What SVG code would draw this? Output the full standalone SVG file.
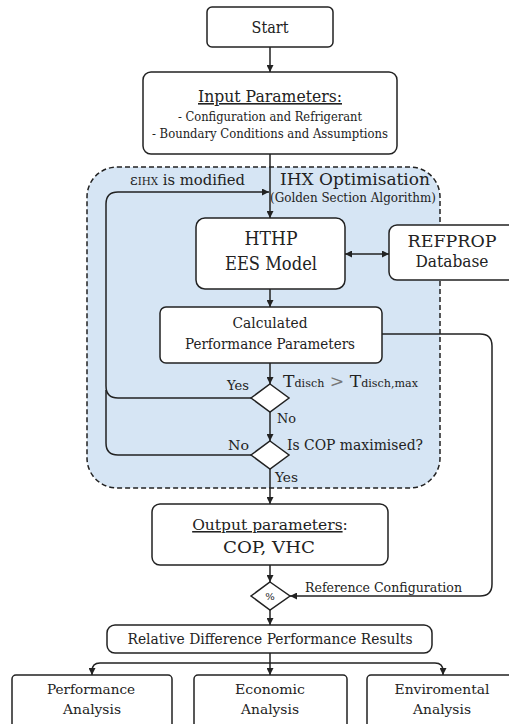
<svg xmlns="http://www.w3.org/2000/svg" width="509" height="724" viewBox="0 0 509 724">
<style>
.box{fill:#fff;stroke:#222;stroke-width:1.5}
.ln{fill:none;stroke:#222;stroke-width:1.5}
text{font-family:"DejaVu Serif","Liberation Serif",serif;fill:#222}
.c{text-anchor:middle}
</style>
<defs>
<marker id="ah" viewBox="0 0 10 10" refX="10" refY="5" markerWidth="7" markerHeight="7" orient="auto-start-reverse" markerUnits="userSpaceOnUse">
<path d="M0,0 L10,5 L0,10 z" fill="#222"/>
</marker>
</defs>
<rect id="region" x="87" y="167" width="353" height="321" rx="30" fill="#d6e5f4" stroke="#222" stroke-width="1.5" stroke-dasharray="5,3"/>
<g id="start"><rect class="box" x="207" y="7" width="126" height="40" rx="5"/><text class="c" x="270" y="33" font-size="17" textLength="37" lengthAdjust="spacingAndGlyphs">Start</text></g>
<g id="input"><rect class="box" x="143" y="72" width="254" height="82" rx="8"/>
<text class="c" x="270" y="102" font-size="16" text-decoration="underline" textLength="144" lengthAdjust="spacingAndGlyphs">Input Parameters:</text>
<text class="c" x="270" y="121" font-size="12" textLength="184" lengthAdjust="spacingAndGlyphs">- Configuration and Refrigerant</text>
<text class="c" x="270" y="138" font-size="12" textLength="236" lengthAdjust="spacingAndGlyphs">- Boundary Conditions and Assumptions</text></g>
<g id="ihx-label"><text x="280" y="185" font-size="17.5" textLength="150" lengthAdjust="spacingAndGlyphs">IHX Optimisation</text>
<text x="270" y="202" font-size="12" textLength="166" lengthAdjust="spacingAndGlyphs">(Golden Section Algorithm)</text></g>
<g id="eps-label"><text x="130" y="185" font-size="15" textLength="115" lengthAdjust="spacingAndGlyphs">ε<tspan font-size="10.5">IHX</tspan> is modified</text></g>
<g id="hthp"><rect class="box" x="196" y="218" width="149" height="71" rx="9"/>
<text class="c" x="271" y="245" font-size="19" textLength="53" lengthAdjust="spacingAndGlyphs">HTHP</text>
<text class="c" x="271" y="270" font-size="19" textLength="92" lengthAdjust="spacingAndGlyphs">EES Model</text></g>
<g id="refprop"><rect class="box" x="389" y="225" width="128" height="55" rx="8"/>
<text class="c" x="452" y="247" font-size="17" textLength="89" lengthAdjust="spacingAndGlyphs">REFPROP</text>
<text class="c" x="452" y="267" font-size="17" textLength="73" lengthAdjust="spacingAndGlyphs">Database</text></g>
<g id="calc"><rect class="box" x="160" y="307" width="222" height="56" rx="6"/>
<text class="c" x="270" y="328" font-size="14" textLength="75" lengthAdjust="spacingAndGlyphs">Calculated</text>
<text class="c" x="270" y="349" font-size="14" textLength="170" lengthAdjust="spacingAndGlyphs">Performance Parameters</text></g>
<g id="d1"><path class="box" d="M270,384 L289,398 L270,412 L251,398 z"/>
<text x="227" y="390" font-size="13" textLength="22" lengthAdjust="spacingAndGlyphs">Yes</text>
<text x="283" y="387" font-size="17" textLength="135" lengthAdjust="spacingAndGlyphs">T<tspan font-size="11">disch</tspan> <tspan fill="#777">&gt;</tspan> T<tspan font-size="11">disch,max</tspan></text>
<text x="277" y="423" font-size="13" textLength="19" lengthAdjust="spacingAndGlyphs">No</text></g>
<g id="d2"><path class="box" d="M270,441 L289,455 L270,469 L251,455 z"/>
<text x="228" y="450" font-size="13" textLength="21" lengthAdjust="spacingAndGlyphs">No</text>
<text x="287" y="450" font-size="14" textLength="136" lengthAdjust="spacingAndGlyphs">Is COP maximised?</text>
<text x="275" y="482" font-size="13" textLength="23" lengthAdjust="spacingAndGlyphs">Yes</text></g>
<g id="output"><rect class="box" x="152" y="504" width="236" height="61" rx="8"/>
<text class="c" x="270" y="530" font-size="15.5"><tspan text-decoration="underline">Output parameters</tspan>:</text>
<text class="c" x="269" y="553" font-size="17" textLength="92" lengthAdjust="spacingAndGlyphs">COP, VHC</text></g>
<g id="pct"><path class="box" d="M270,582 L290,596 L270,610 L251,596 z"/>
<text class="c" x="270" y="600" font-size="10">%</text>
<text x="305" y="592" font-size="13" textLength="157" lengthAdjust="spacingAndGlyphs">Reference Configuration</text></g>
<g id="relative"><rect class="box" x="107" y="625" width="325" height="28" rx="8"/>
<text class="c" x="270" y="644" font-size="14" textLength="285" lengthAdjust="spacingAndGlyphs">Relative Difference Performance Results</text></g>
<g id="perf"><rect class="box" x="12" y="675" width="160" height="60" rx="4"/>
<text class="c" x="91" y="694" font-size="13.5" textLength="88" lengthAdjust="spacingAndGlyphs">Performance</text>
<text class="c" x="92" y="714" font-size="13.5" textLength="58" lengthAdjust="spacingAndGlyphs">Analysis</text></g>
<g id="econ"><rect class="box" x="194" y="675" width="153" height="60" rx="4"/>
<text class="c" x="270" y="694" font-size="13.5" textLength="70" lengthAdjust="spacingAndGlyphs">Economic</text>
<text class="c" x="270" y="714" font-size="13.5" textLength="58" lengthAdjust="spacingAndGlyphs">Analysis</text></g>
<g id="env"><rect class="box" x="367" y="675" width="160" height="60" rx="4"/>
<text class="c" x="442" y="694" font-size="13.5" textLength="95" lengthAdjust="spacingAndGlyphs">Enviromental</text>
<text class="c" x="442" y="714" font-size="13.5" textLength="58" lengthAdjust="spacingAndGlyphs">Analysis</text></g>
<g id="connectors">
<path class="ln" d="M270,47 V72" marker-end="url(#ah)"/>
<path class="ln" d="M270,154 V218" marker-end="url(#ah)"/>
<path class="ln" d="M345,254 H389" marker-start="url(#ah)" marker-end="url(#ah)"/>
<path class="ln" d="M270,289 V307" marker-end="url(#ah)"/>
<path class="ln" d="M270,363 V384" marker-end="url(#ah)"/>
<path class="ln" d="M270,412 V441" marker-end="url(#ah)"/>
<path class="ln" d="M251,398 H118 Q106,398 106,386 V204 Q106,192 118,192 H269" marker-end="url(#ah)"/>
<path class="ln" d="M251,455 H118 Q106,455 106,443 V390"/>
<path class="ln" d="M270,469 V504" marker-end="url(#ah)"/>
<path class="ln" d="M270,565 V582" marker-end="url(#ah)"/>
<path class="ln" d="M382,334 H480 Q492,334 492,346 V584 Q492,596 480,596 H290" marker-end="url(#ah)"/>
<path class="ln" d="M270,610 V625" marker-end="url(#ah)"/>
<path class="ln" d="M270,653 V675" marker-end="url(#ah)"/>
<path class="ln" d="M92,675 V671 Q92,663 100,663 H435 Q443,663 443,671 V675" marker-start="url(#ah)" marker-end="url(#ah)"/>
</g>
</svg>
